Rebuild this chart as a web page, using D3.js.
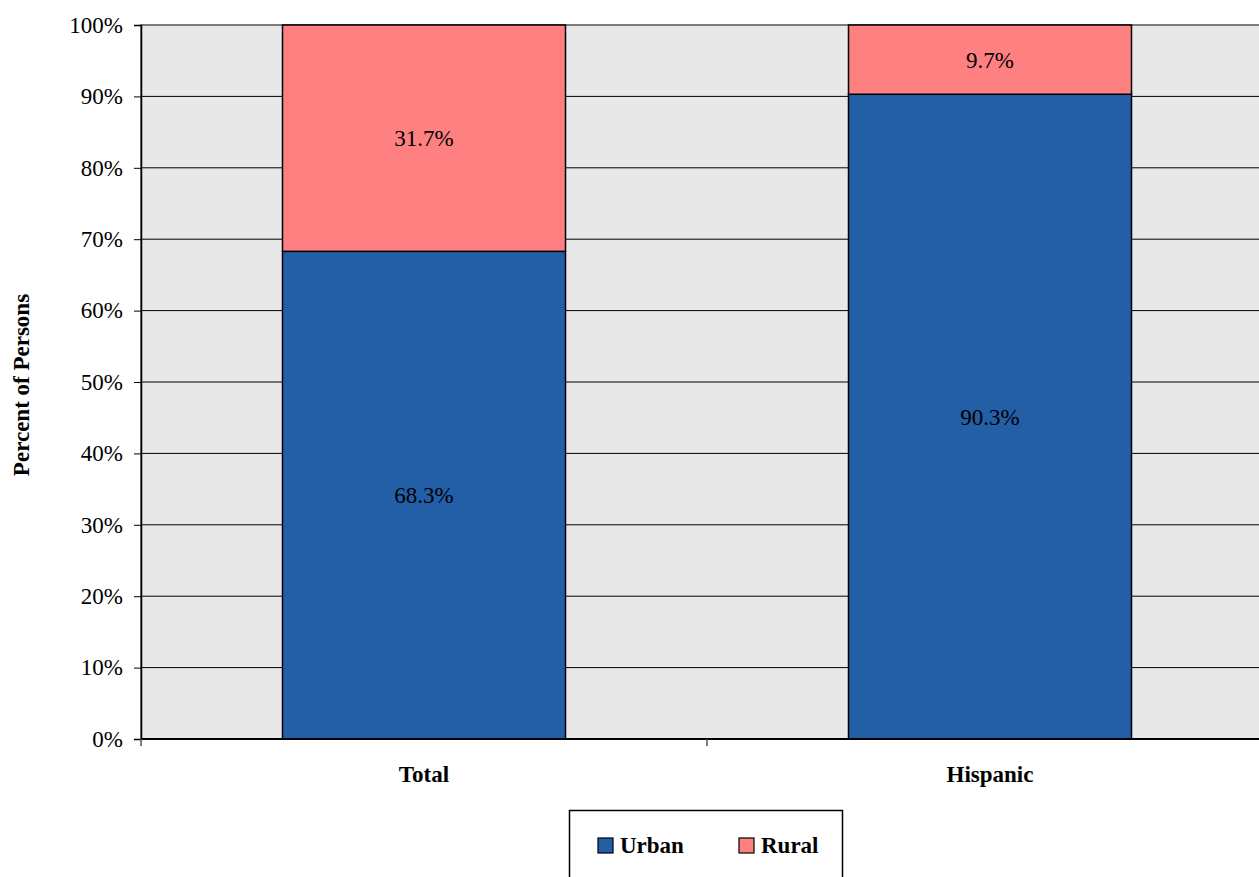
<!DOCTYPE html>
<html><head><meta charset="utf-8">
<script src="https://cdn.jsdelivr.net/npm/d3@7/dist/d3.min.js"></script>
<style>body{margin:0;background:#fff;}svg{display:block;}</style>
</head><body>
<script>
const categories = ["Total", "Hispanic"];
const urban = [68.3, 90.3];
const rural = [31.7, 9.7];
const yTicks = [0,10,20,30,40,50,60,70,80,90,100];
const seriesNames = ["Urban", "Rural"];
const seriesColors = ["#235FA7", "#FF8080"];

(function(){
const W = 1259, H = 877;
const svg = d3.select("body").append("svg").attr("width", W).attr("height", H);
const pL = 141, pR = 1273, pT = 25, pB = 739;
const font = "'Liberation Serif','Times New Roman',serif";
const fs = 23;

const x = d3.scaleBand().domain(categories).range([pL, pR]).paddingInner(0.5).paddingOuter(0.25);
const y = d3.scaleLinear().domain([0, 100]).range([pB, pT]);

svg.append("rect").attr("x", pL).attr("y", pT).attr("width", pR-pL).attr("height", pB-pT)
  .attr("fill", "#E8E8E8").attr("stroke", "#555").attr("stroke-width", 1.5);

svg.append("g").selectAll("line").data(yTicks.filter(d=>d>0 && d<100)).join("line")
  .attr("x1", pL).attr("x2", pR).attr("y1", d=>y(d)).attr("y2", d=>y(d))
  .attr("stroke", "#000").attr("stroke-width", 1);

const stackData = categories.map((c,i)=>({cat:c, Urban:urban[i], Rural:rural[i]}));
const stack = d3.stack().keys(seriesNames)(stackData);
svg.append("g").selectAll("g").data(stack).join("g")
  .attr("fill", (d,i)=>seriesColors[i])
  .selectAll("rect").data(d=>d).join("rect")
  .attr("x", d=>x(d.data.cat)).attr("width", x.bandwidth())
  .attr("y", d=>y(d[1])).attr("height", d=>y(d[0])-y(d[1]))
  .attr("stroke", "#000").attr("stroke-width", 1.5);

svg.append("g").selectAll("g").data(stack).join("g")
  .selectAll("text").data(d=>d).join("text")
  .attr("x", d=>x(d.data.cat)+x.bandwidth()/2)
  .attr("y", d=>(y(d[0])+y(d[1]))/2)
  .attr("dy", "0.35em").attr("text-anchor", "middle")
  .attr("font-family", font).attr("font-size", fs)
  .text(d=>(d[1]-d[0]).toFixed(1)+"%");

// y axis
const yAxis = d3.axisLeft(y).tickValues(yTicks).tickFormat(d=>d+"%").tickSize(7).tickPadding(11);
const gy = svg.append("g").attr("transform", `translate(${pL},0)`).call(yAxis);
gy.select(".domain").attr("stroke", "#000").attr("stroke-width", 1.5);
gy.selectAll("line").attr("stroke", "#000");
gy.selectAll("text").attr("font-family", font).attr("font-size", fs).attr("fill", "#000");

// x axis
const gx = svg.append("g").attr("transform", `translate(0,${pB})`);
gx.append("line").attr("x1", pL).attr("x2", pR).attr("stroke", "#000").attr("stroke-width", 2);
const bounds = [pL, (pL+pR)/2, pR];
gx.selectAll("line.t").data(bounds).join("line").attr("class","t")
  .attr("x1", d=>d).attr("x2", d=>d).attr("y1", 0).attr("y2", 7).attr("stroke", "#555").attr("stroke-width", 1.5);
gx.selectAll("text").data(categories).join("text")
  .attr("x", d=>x(d)+x.bandwidth()/2).attr("y", 43)
  .attr("text-anchor", "middle").attr("font-family", font).attr("font-size", fs).attr("font-weight", "bold")
  .text(d=>d);

svg.append("text").attr("transform", "translate(29,385) rotate(-90)")
  .attr("text-anchor", "middle").attr("font-family", font).attr("font-size", fs).attr("font-weight", "bold")
  .text("Percent of Persons");

// legend
const lg = svg.append("g");
lg.append("rect").attr("x", 569.5).attr("y", 810.5).attr("width", 273).attr("height", 80)
  .attr("fill", "#fff").attr("stroke", "#000").attr("stroke-width", 1.5);
const lx = [598, 739];
seriesNames.forEach((s,i)=>{
  lg.append("rect").attr("x", lx[i]).attr("y", 838).attr("width", 15).attr("height", 15)
    .attr("fill", seriesColors[i]).attr("stroke", "#000").attr("stroke-width", 1.2);
  lg.append("text").attr("x", lx[i]+22).attr("y", 853).attr("font-family", font).attr("font-size", fs)
    .attr("font-weight", "bold").text(s);
});
})();
</script>
</body></html>
